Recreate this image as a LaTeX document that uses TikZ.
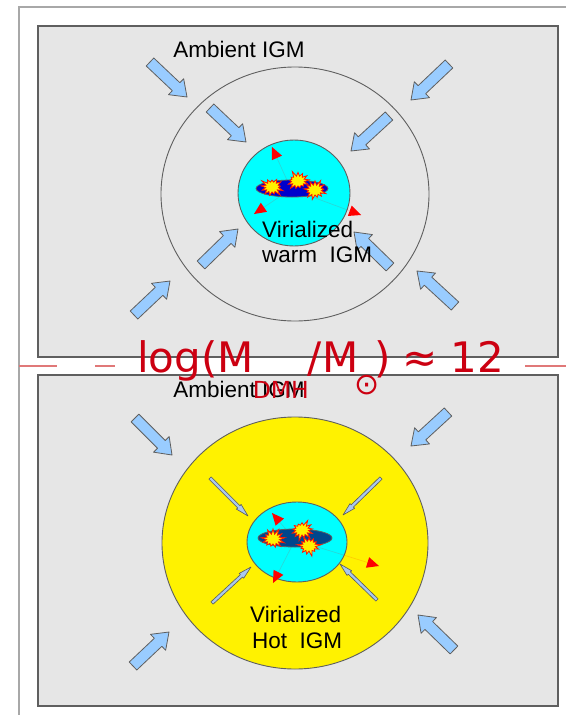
\documentclass[tikz,border=0pt]{standalone}
\usepackage{fontspec}
\setmainfont{Liberation Sans}
\newfontfamily\titlefont{DejaVu Sans}
\usetikzlibrary{calc,shapes.symbols}

\definecolor{panelgray}{HTML}{E6E6E6}
\definecolor{edgegray}{HTML}{5F5F5F}
\definecolor{framegray}{HTML}{A8A8A8}
\definecolor{flowblue}{HTML}{99CCFF}
\definecolor{titlered}{HTML}{CC0011}
\definecolor{dashred}{HTML}{E07878}
\definecolor{diskblue}{HTML}{0000CC}
\definecolor{diskdark}{HTML}{00468C}
\definecolor{halocyan}{HTML}{00FFFF}
\definecolor{needleblue}{HTML}{A9C8EE}

% block arrow from #2 (tail) to #3 (tip): shaft half width #4, head half width #5, head length #6
\newcommand\spear[6]{%
  \draw[#1] ($(#2)!#4!90:(#3)$)
    -- ($(#3)!#6!(#2)!#4!-90:(#2)$)
    -- ($(#3)!#6!(#2)!#5!-90:(#2)$)
    -- (#3)
    -- ($(#3)!#6!(#2)!#5!90:(#2)$)
    -- ($(#3)!#6!(#2)!#4!90:(#2)$)
    -- ($(#2)!#4!-90:(#3)$) -- cycle;}

% ejecta track from #1 ending in a red wedge at #2
\newcommand\kick[2]{%
  \draw[kickline] (#1) -- (#2);
  \fill[red] (#2) -- ($(#2)!12pt!(#1)!5.5pt!90:(#2)$)
    -- ($(#2)!12pt!(#1)!5.5pt!-90:(#2)$) -- cycle;}

\begin{document}
\begin{tikzpicture}[x=1pt,y=-1pt,
  panel/.style={draw=edgegray, line width=1.2pt, fill=panelgray},
  halo/.style={draw=edgegray, line width=0.9pt},
  flow/.style={draw=edgegray, line width=0.8pt, fill=flowblue, line join=round},
  needle/.style={draw=gray!70!black, line width=0.6pt, fill=needleblue, line join=round},
  burst/.style={starburst, starburst points=13, starburst point height=6pt,
    fill=yellow, draw=red!85!orange, line width=0.8pt,
    minimum width=25pt, minimum height=22pt, inner sep=0pt},
  kickline/.style={draw=red, draw opacity=0.15, line width=0.7pt},
  framing/.style={draw=framegray, line width=1.5pt},
  dashline/.style={draw=dashred, line width=1.5pt},
  caption/.style={font=\fontsize{22.5}{26}\selectfont, inner sep=0pt}]

\useasboundingbox (0,0) rectangle (566,715);

% page frame
\draw[framing] (19,715) -- (19,7) -- (566,7);

% the two panels
\draw[panel] (38,26) rectangle (558,357);
\draw[panel] (38,375) rectangle (558,706);

% separator
\draw[dashline] (19,366) -- (57,366);
\draw[dashline] (95,366) -- (115,366);
\draw[dashline] (525,366) -- (566,366);

% ---------------- upper panel: warm halo ----------------
\draw[halo] (295,194) ellipse [x radius=134pt, y radius=127pt];
\draw[halo, fill=halocyan] (294,193) ellipse [x radius=56pt, y radius=53pt];

\coordinate (c1) at (291,189);
\coordinate (k1a) at (272,147);
\coordinate (k1b) at (254,214);
\coordinate (k1c) at (361,215);
\kick{c1}{k1a}
\kick{c1}{k1b}
\kick{c1}{k1c}

\draw[draw=edgegray, line width=0.8pt, fill=diskblue] (292,188.5) ellipse [x radius=36pt, y radius=8.5pt];
\node[burst, random starburst=3] (u1) at (272,187) {};
\node[burst, random starburst=5] (u2) at (298,181) {};
\node[burst, random starburst=8] (u3) at (315,190) {};

\foreach \a/\b/\c/\d in {150/62/187/97, 210/108/246/142, 449/64/411/100,
    389/116/351/151, 134/315/170/281, 201/265/238/229, 455/306/417/271,
    390/267/354/232}{
  \coordinate (ft) at (\a,\b);
  \coordinate (fh) at (\c,\d);
  \spear{flow}{ft}{fh}{5.5pt}{11pt}{15pt}
}

\node[caption, anchor=base] (amb1) at (239,57) {Ambient IGM};
\node[caption, anchor=base west] (vir1) at (262,237) {Virialized};
\node[caption, anchor=base west] (warm) at (262,262) {warm\ \ IGM};

% ---------------- lower panel: hot halo ----------------
\draw[halo, fill=yellow] (295,543) ellipse [x radius=133pt, y radius=126pt];
\draw[halo, fill=halocyan] (297,542) ellipse [x radius=50pt, y radius=40pt];

\coordinate (c2) at (295,540);
\coordinate (k2a) at (272,513);
\coordinate (k2b) at (273,583);
\coordinate (k2c) at (379,566);
\kick{c2}{k2a}
\kick{c2}{k2b}
\kick{c2}{k2c}

\draw[draw=edgegray, line width=0.8pt, fill=diskdark] (295,538) ellipse [x radius=37pt, y radius=9pt];
\node[burst, random starburst=4] (l1) at (273,539) {};
\node[burst, random starburst=6] (l2) at (302,530) {};
\node[burst, random starburst=9] (l3) at (309,546) {};

\foreach \a/\b/\c/\d in {210/478/248/516, 381/478/343/515,
    212/603/251/567, 377/600/340/564}{
  \coordinate (nt) at (\a,\b);
  \coordinate (nh) at (\c,\d);
  \spear{needle}{nt}{nh}{1.6pt}{3.3pt}{13pt}
}

\foreach \a/\b/\c/\d in {135/418/172/455, 448/412/411/446,
    133/666/169/632, 454/650/418/615}{
  \coordinate (ft) at (\a,\b);
  \coordinate (fh) at (\c,\d);
  \spear{flow}{ft}{fh}{5.5pt}{11pt}{15pt}
}

\node[caption, anchor=base] (amb2) at (239,397) {Ambient IGM};
\node[caption, anchor=base west] (vir2) at (250,622) {Virialized};
\node[caption, anchor=base west] (hot) at (252,648) {Hot\ \ IGM};

% mass threshold label across the separator
\node[anchor=base west, inner sep=0pt, text=titlered,
  font=\titlefont\fontsize{42}{42}\selectfont] (mass) at (137,372)
  {log(M\kern-1pt\raisebox{-26pt}{\fontsize{23.5}{24}\selectfont DMH}\kern-1pt/M\kern-4pt\raisebox{-22pt}{\fontsize{30}{30}\selectfont ⊙}\kern-5pt)\kern-2pt{} ≈ 12};

\end{tikzpicture}
\end{document}
